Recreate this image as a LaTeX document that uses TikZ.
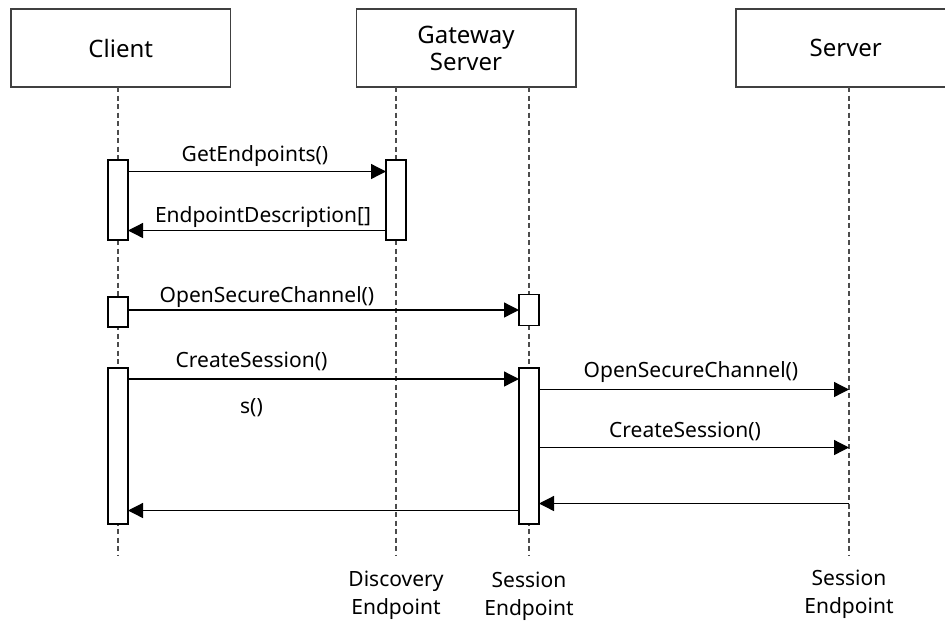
\documentclass[tikz,border=0pt]{standalone}
\usepackage{fontspec}
\setmainfont{Noto Sans}
\usetikzlibrary{arrows.meta}
\begin{document}
\begin{tikzpicture}[x=1pt,y=-1pt,
  actor/.style={draw=black!75, line width=1.5pt, fill=white, minimum width=219.5pt,
    minimum height=78pt, inner sep=0pt, align=center, font=\fontsize{24}{27}\selectfont},
  life/.style={draw=black!70, line width=1.2pt, dash pattern=on 5pt off 3.5pt},
  act/.style={draw=black, line width=1.3pt, fill=white, minimum width=20pt,
    inner sep=0pt, outer sep=0pt},
  msg/.style={draw=black, line width=1.3pt, -{Triangle[length=15pt,width=15pt]}},
  lbl/.style={font=\fontsize{21}{28}\selectfont, inner sep=0pt, anchor=base, align=center},
]
\useasboundingbox (0,0) rectangle (945,622);
\clip (0,0) rectangle (945,622);

% participants
\node[actor] (client)  at (120.75,48) {Client};
\node[actor] (gateway) at (466,48)    {Gateway\\Server};
\node[actor] (server)  at (845.75,48) {Server};

% lifelines
\coordinate (cTop) at (118,87);  \coordinate (cBot) at (118,556);
\coordinate (dTop) at (396,87);  \coordinate (dBot) at (396,556);
\coordinate (sTop) at (529,87);  \coordinate (sBot) at (529,556);
\coordinate (vTop) at (849,87);  \coordinate (vBot) at (849,556);
\draw[life] (cTop) -- (cBot);
\draw[life] (dTop) -- (dBot);
\draw[life] (sTop) -- (sBot);
\draw[life] (vTop) -- (vBot);

% activation bars
\node[act, minimum height=80pt]  (cA1) at (118,200) {};
\node[act, minimum height=80pt]  (dA1) at (396,200) {};
\node[act, minimum height=30pt]  (cA2) at (118,312) {};
\node[act, minimum height=31pt]  (sA1) at (529,310) {};
\node[act, minimum height=156pt] (cA3) at (118,446) {};
\node[act, minimum height=156pt] (sA2) at (529,446) {};

% server lifeline points
\coordinate (v1) at (849,389.5);
\coordinate (v2) at (849,447.5);
\coordinate (v3) at (849,503.5);

% messages
\draw[msg] (cA1.east |- 0,171.5) -- (dA1.west |- 0,171.5);
\draw[msg] (dA1.west |- 0,230.5) -- (cA1.east |- 0,230.5);
\draw[msg] (cA2.east |- 0,310)   -- (sA1.west |- 0,310);
\draw[msg] (cA3.east |- 0,379)   -- (sA2.west |- 0,379);
\draw[msg] (sA2.east |- v1) -- (v1);
\draw[msg] (sA2.east |- v2) -- (v2);
\draw[msg] (v3) -- (sA2.east |- v3);
\draw[msg] (sA2.west |- 0,510.5) -- (cA3.east |- 0,510.5);

% message labels
\node[lbl] (l1) at (255,161)   {GetEndpoints()};
\node[lbl] (l2) at (263,222)   {EndpointDescription[]};
\node[lbl] (l3) at (267,302)   {OpenSecureChannel()};
\node[lbl] (l4) at (251.5,367) {CreateSession()};
\node[lbl] (l5) at (251.5,413) {s()};
\node[lbl] (l6) at (691,377)   {OpenSecureChannel()};
\node[lbl] (l7) at (685,437.5) {CreateSession()};

% endpoint captions
\node[lbl, anchor=center] (e1) at (396,595.5) {Discovery\\Endpoint};
\node[lbl, anchor=center] (e2) at (529,596.5) {Session\\Endpoint};
\node[lbl, anchor=center] (e3) at (849,594.5) {Session\\Endpoint};
\end{tikzpicture}
\end{document}
